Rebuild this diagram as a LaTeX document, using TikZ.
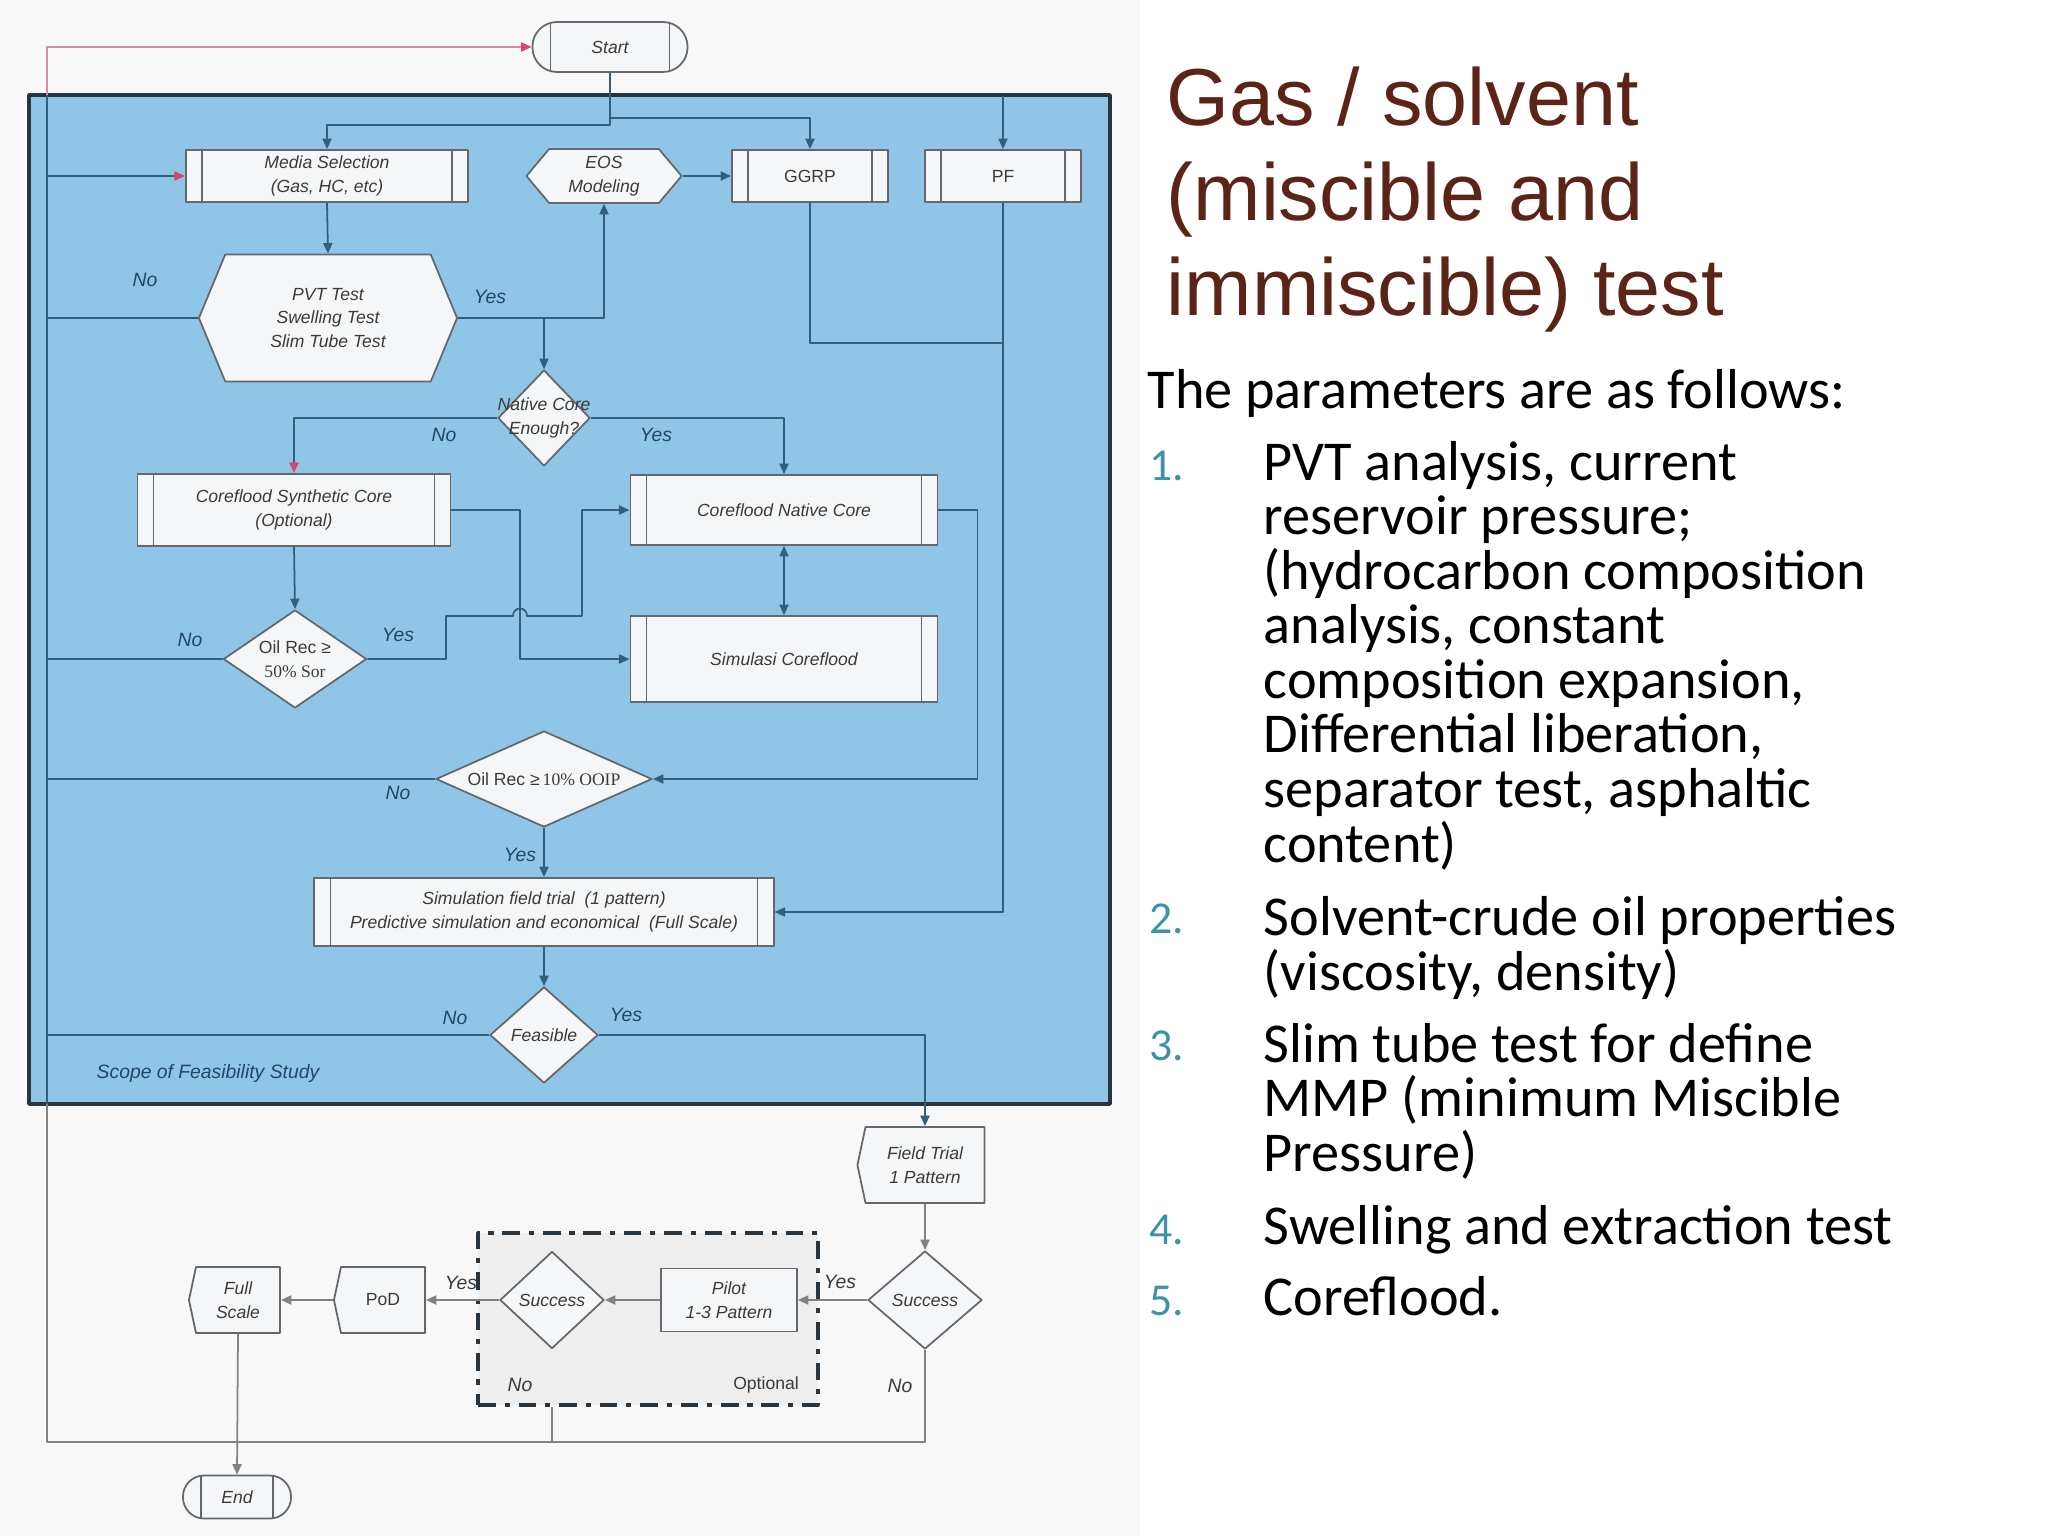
\documentclass[tikz,border=0pt]{standalone}
\usepackage{fontspec}
\setmainfont{Carlito}
\newfontfamily\arialfont{Liberation Sans}
\newfontfamily\timesfont{Liberation Serif}
\usetikzlibrary{arrows.meta,shapes.geometric,shapes.symbols}

\definecolor{panelblue}{RGB}{143,197,230}
\definecolor{panelframe}{RGB}{40,52,62}
\definecolor{flowline}{RGB}{50,95,124}
\definecolor{boxline}{RGB}{100,104,108}
\definecolor{boxfill}{RGB}{245,246,247}
\definecolor{chartgrey}{RGB}{58,58,58}
\definecolor{loopgrey}{RGB}{130,130,130}
\definecolor{looppink}{RGB}{212,140,170}
\definecolor{arrowpink}{RGB}{226,62,112}
\definecolor{labelblue}{RGB}{32,72,102}
\definecolor{optfill}{RGB}{238,238,238}
\definecolor{sheetgrey}{RGB}{248,248,248}
\definecolor{titlebrown}{RGB}{92,36,22}
\definecolor{numteal}{RGB}{62,146,168}

\newcommand\chartit{\arialfont\itshape\fontsize{5}{6.7}\selectfont}
\newcommand\chartup{\arialfont\fontsize{5}{6.7}\selectfont}
\newcommand\chartlab{\arialfont\itshape\fontsize{5.5}{6.5}\selectfont}

\begin{document}
\begin{tikzpicture}[x=0.01cm, y=-0.01cm, line join=round, >={Triangle[length=3pt,width=2.6pt]},
    proc/.style={draw=boxline, line width=.5pt, fill=boxfill, inner sep=0pt, align=center, font=\chartit, text=chartgrey},
    predef/.style={proc, path picture={
        \draw[boxline, line width=.4pt] ([xshift=#1]path picture bounding box.north west) -- ([xshift=#1]path picture bounding box.south west)
          ([xshift=-#1]path picture bounding box.north east) -- ([xshift=-#1]path picture bounding box.south east);}},
    predef/.default=4.6pt,
    term/.style={predef=5.1pt, rounded corners=7pt},
    hexa/.style={proc, signal, signal to=west and east, signal pointer angle=#1},
    dispbox/.style={proc, signal, signal to=west, signal pointer angle=156},
    decision/.style={proc, diamond},
    optbox/.style={draw=panelframe, line width=1.1pt, fill=optfill, dash pattern=on 5pt off 2.5pt on 1.5pt off 2.5pt},
    dlabel/.style={font=\chartit, text=chartgrey, align=center, inner sep=0pt},
    flow/.style={draw=flowline, line width=.5pt, ->},
    pinkflow/.style={draw=flowline, line width=.5pt, -{Triangle[length=3pt,width=2.6pt,color=arrowpink]}},
    panelline/.style={draw=flowline, line width=.5pt},
    greyline/.style={draw=loopgrey, line width=.5pt},
    greyflow/.style={greyline, ->},
    flowlabel/.style={font=\chartlab, text=labelblue, inner sep=0pt},
    outlabel/.style={font=\chartlab, text=chartgrey, inner sep=0pt},
    titletext/.style={font=\arialfont\fontsize{23}{27}\selectfont, text=titlebrown, align=left, inner sep=0pt},
    bodytext/.style={font=\fontsize{16}{15.5}\selectfont, align=left, inner sep=0pt},
    numtext/.style={font=\fontsize{13}{15}\selectfont, text=numteal, inner sep=0pt}]
\useasboundingbox (0,0) rectangle (2048,1536);
\fill[sheetgrey] (0,0) rectangle (1140,1536);

% scope of the feasibility study
\fill[panelblue] (29,95) rectangle (1110,1104);
\draw[panelframe, line width=1pt] (29,95) rectangle (1110,1104);
\coordinate (loopbot) at (47,1442);
\coordinate (looptop) at (47,47);

\node[term, minimum width=1.55cm, minimum height=.5cm] (start) at (610,47) {Start};
\node[predef, minimum width=2.82cm, minimum height=.52cm] (media) at (327,176) {Media Selection\\(Gas, HC, etc)};
\node[hexa=100, minimum width=1.55cm, minimum height=.54cm] (eos) at (604,176) {EOS\\Modeling};
\node[predef, minimum width=1.56cm, minimum height=.52cm, font=\chartup] (ggrp) at (810,176) {GGRP};
\node[predef, minimum width=1.56cm, minimum height=.52cm, font=\chartup] (pf) at (1003,176) {PF};
\node[hexa=135, minimum width=2.58cm, minimum height=1.27cm] (pvt) at (328,318) {PVT Test\\Swelling Test\\Slim Tube Test};
\node[decision, minimum width=.92cm, minimum height=.96cm, label={[dlabel]center:{Native Core\\Enough?}}] (native) at (544,418) {};
\node[predef, minimum width=3.13cm, minimum height=.72cm] (synth) at (294,510) {Coreflood Synthetic Core\\(Optional)};
\node[predef, minimum width=3.07cm, minimum height=.70cm] (ncore) at (784,510) {Coreflood Native Core};
\node[predef, minimum width=3.07cm, minimum height=.86cm] (simcore) at (784,659) {Simulasi Coreflood};
\node[decision, minimum width=1.43cm, minimum height=.98cm, label={[dlabel, font=\chartup]center:{Oil Rec ≥\\{\timesfont 50\% Sor}}}] (rec50) at (295,659) {};
\node[decision, minimum width=2.16cm, minimum height=.96cm, label={[dlabel, font=\chartup]center:{Oil Rec ≥\,{\timesfont 10\% OOIP}}}] (rec10) at (544,779) {};
\node[predef, minimum width=4.59cm, minimum height=.68cm] (simfield) at (544,912) {Simulation field trial\ \ (1 pattern)\\Predictive simulation and economical\ \ (Full Scale)};
\node[decision, minimum width=1.08cm, minimum height=.96cm, label={[dlabel]center:Feasible}] (feasible) at (544,1035) {};
\node[flowlabel, anchor=west] (scope) at (96,1073) {Scope of Feasibility Study};

% field trial and pilot
\node[dispbox, minimum width=1.27cm, minimum height=.76cm] (field) at (925,1165) {Field Trial\\1 Pattern};
\node[decision, minimum width=1.14cm, minimum height=.98cm, label={[dlabel]center:Success}] (succR) at (925,1300) {};
\node[optbox, minimum width=3.39cm, minimum height=1.72cm] (opt) at (648,1319) {};
\node[proc, minimum width=1.36cm, minimum height=.63cm] (pilot) at (729,1300) {Pilot\\1-3 Pattern};
\node[decision, minimum width=1.04cm, minimum height=.97cm, label={[dlabel]center:Success}] (succL) at (552,1300) {};
\node[dispbox, minimum width=.91cm, minimum height=.66cm, font=\chartup] (pod) at (383,1300) {PoD};
\node[dispbox, minimum width=.91cm, minimum height=.66cm] (full) at (238,1300) {Full\\Scale};
\node[term, minimum width=1.08cm, minimum height=.43cm, rounded corners=6pt] (stop) at (237,1497) {End};

% connectors
\draw[flow] (start.south) -- ++(0,45) -| (ggrp.north);
\draw[flow] (start.south) -- ++(0,52) -| (media.north);
\draw[flow] (pf.north |- 0,96) -- (pf.north);
\draw[flow] (eos.east) -- (ggrp.west);
\draw[flow] (media.south) -- (pvt.north);
\draw[flow] (pvt.east) -| (eos.south);
\draw[flow] (pvt.east -| native.north) -- (native.north);
\draw[panelline] (pvt.west) -- (pvt.west -| loopbot);
\draw[pinkflow] (native.west) -| (synth.north);
\draw[flow] (native.east) -| (ncore.north);
\draw[flow, <->] (ncore.south) -- (simcore.north);
\draw[flow] (synth.south) -- (rec50.north);
\draw[flow] (synth.east) -| (520,659) -- (simcore.west);
\draw[flow] (rec50.east) -| (446,616) -- (513,616) .. controls (513,606) and (527,606) .. (527,616) -- (582,616) |- (ncore.west);
\draw[panelline] (rec50.west) -- (rec50.west -| loopbot);
\draw[flow] (ncore.east) -- ++(39,0) |- (rec10.east);
\draw[panelline] (rec10.west) -- (rec10.west -| loopbot);
\draw[flow] (rec10.south) -- (simfield.north);
\draw[panelline] (ggrp.south) |- (pf.south |- 0,343);
\draw[flow] (pf.south) |- (simfield.east);
\draw[flow] (simfield.south) -- (feasible.north);
\draw[panelline] (feasible.west) -- (feasible.west -| loopbot);
\draw[flow] (feasible.east) -| (field.north);
\draw[panelline] (47,1104) -- (47,95);
\draw[pinkflow] (media.west -| loopbot) -- (media.west);
\draw[draw=looppink, line width=.5pt, -{Triangle[length=3pt,width=2.6pt,color=arrowpink]}] (47,95) -- (looptop) -- (start.west);
\draw[greyline] (succR.south) -- (succR.south |- loopbot) -- (loopbot) -- (47,1104);
\draw[greyflow] (field.south) -- (succR.north);
\draw[greyflow] (succR.west) -- (pilot.east);
\draw[greyflow] (pilot.west) -- (succL.east);
\draw[greyflow] (succL.west) -- (pod.east);
\draw[greyflow] (pod.west) -- (full.east);
\draw[greyline] (succL.south |- opt.south) -- (succL.south |- loopbot);
\draw[greyflow] (full.south) -- (stop.north);

% yes / no
\node[flowlabel] (pvtno) at (145,280) {No};
\node[flowlabel] (pvtyes) at (490,297) {Yes};
\node[flowlabel] (nativeno) at (444,435) {No};
\node[flowlabel] (nativeyes) at (656,435) {Yes};
\node[flowlabel] (rec50no) at (190,640) {No};
\node[flowlabel] (rec50yes) at (398,635) {Yes};
\node[flowlabel] (rec10no) at (398,793) {No};
\node[flowlabel] (rec10yes) at (520,855) {Yes};
\node[flowlabel] (feasno) at (455,1018) {No};
\node[flowlabel] (feasyes) at (626,1015) {Yes};
\node[outlabel] (succRyes) at (840,1282) {Yes};
\node[outlabel] (succRno) at (900,1386) {No};
\node[outlabel] (succLyes) at (461,1283) {Yes};
\node[outlabel] (optno) at (520,1385) {No};
\node[outlabel, font=\chartup] (optname) at (766,1385) {Optional};

% slide text (base = last line)
\node[titletext, anchor=base west] (title) at (1166,315) {Gas / solvent\\(miscible and\\immiscible) test};
\node[bodytext, anchor=base west] (intro) at (1147,408) {The parameters are as follows:};
\node[numtext, anchor=base west] (num1) at (1149,480) {1.};
\node[bodytext, anchor=base west] (item1) at (1263,862) {PVT analysis, current\\reservoir pressure;\\(hydrocarbon composition\\analysis, constant\\composition expansion,\\Differential liberation,\\separator test, asphaltic\\content)};
\node[numtext, anchor=base west] (num2) at (1149,933) {2.};
\node[bodytext, anchor=base west] (item2) at (1263,990) {Solvent-crude oil properties\\(viscosity, density)};
\node[numtext, anchor=base west] (num3) at (1149,1060) {3.};
\node[bodytext, anchor=base west] (item3) at (1263,1171) {Slim tube test for define\\MMP (minimum Miscible\\Pressure)};
\node[numtext, anchor=base west] (num4) at (1149,1244) {4.};
\node[bodytext, anchor=base west] (item4) at (1263,1244) {Swelling and extraction test};
\node[numtext, anchor=base west] (num5) at (1149,1315) {5.};
\node[bodytext, anchor=base west] (item5) at (1263,1315) {Coreflood.};
\end{tikzpicture}
\end{document}
